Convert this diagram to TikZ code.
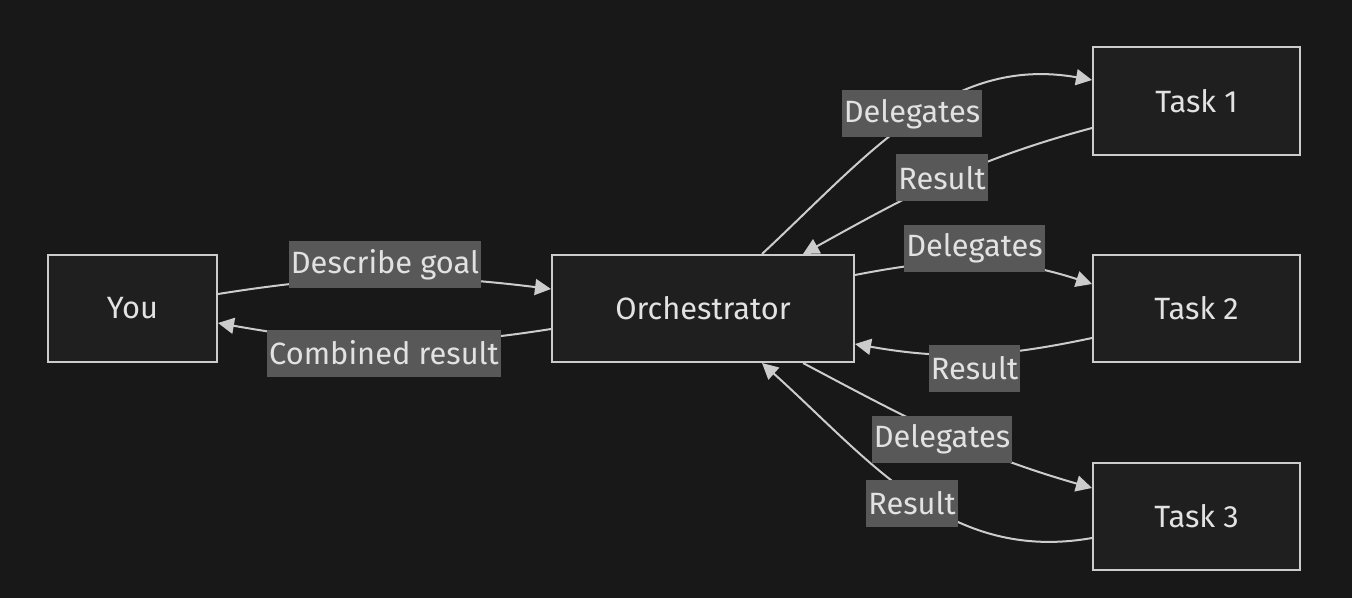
\documentclass[tikz,border=0pt]{standalone}
\usepackage{fontspec}
\setmainfont{Fira Sans}
\usetikzlibrary{arrows.meta,calc}
\definecolor{bg}{RGB}{24,24,24}
\definecolor{nodefill}{RGB}{31,31,31}
\definecolor{stroke}{RGB}{204,204,204}
\definecolor{txt}{RGB}{226,226,226}
\definecolor{lblfill}{RGB}{88,88,88}
\begin{document}
\begin{tikzpicture}[x=0.5pt,y=-0.5pt,
  box/.style={draw=stroke, fill=nodefill, line width=1pt, text=txt,
    font=\fontsize{15.4}{19}\selectfont, inner sep=0pt},
  lbl/.style={fill=lblfill, text=txt, font=\fontsize{15.4}{19}\selectfont,
    inner xsep=1pt, inner ysep=0pt, minimum height=23.5pt},
  edge/.style={draw=stroke, line width=1pt, -{Triangle[length=8pt,width=8pt]}}]
\fill[bg] (0,0) rectangle (1352,598);
\useasboundingbox (0,0) rectangle (1352,598);

\node[box, minimum width=84.5pt, minimum height=53.5pt] (you) at (132.5,308.5) {You};
\node[box, minimum width=151pt, minimum height=53.5pt] (orch) at (703,308.5) {Orchestrator};
\node[box, minimum width=103.5pt, minimum height=54pt] (t1) at (1196.5,101) {Task 1};
\node[box, minimum width=103.5pt, minimum height=53.5pt] (t2) at (1196.5,308.5) {Task 2};
\node[box, minimum width=103.5pt, minimum height=53.5pt] (t3) at (1196.5,516.5) {Task 3};

% edges
\draw[edge] ($(you.east)+(0,-14.5)$) to[out=9,in=173] ($(orch.west)+(0,-19.5)$);
\draw[edge] ($(orch.west)+(0,20.5)$) to[out=189,in=-10] ($(you.east)+(0,14.5)$);
\draw[edge] ($(orch.north)+(59,0)$) to[out=43,in=170] ($(t1.west)+(0,-21)$);
\draw[edge] ($(t1.west)+(0,27)$) to[out=195,in=29] ($(orch.north)+(100,0)$);
\draw[edge] ($(orch.east)+(0,-33.5)$) to[out=11,in=162] ($(t2.west)+(0,-24.5)$);
\draw[edge] ($(t2.west)+(0,29.5)$) to[out=192,in=-10] ($(orch.east)+(0,35.5)$);
\draw[edge] ($(orch.south)+(100,0)$) to[out=-28,in=164] ($(t3.west)+(0,-28.5)$);
\draw[edge] ($(t3.west)+(0,21.5)$) to[out=190,in=-42] ($(orch.south)+(59,0)$);

% labels
\node[lbl] (l1) at (385,264.5) {Describe goal};
\node[lbl] (l2) at (384,353) {Combined result};
\node[lbl] (l3) at (912,114) {Delegates};
\node[lbl] (l4) at (942,178) {Result};
\node[lbl] (l5) at (974.5,248.5) {Delegates};
\node[lbl] (l6) at (974.5,368.5) {Result};
\node[lbl] (l7) at (942,439.5) {Delegates};
\node[lbl] (l8) at (912,503.5) {Result};
\end{tikzpicture}
\end{document}
